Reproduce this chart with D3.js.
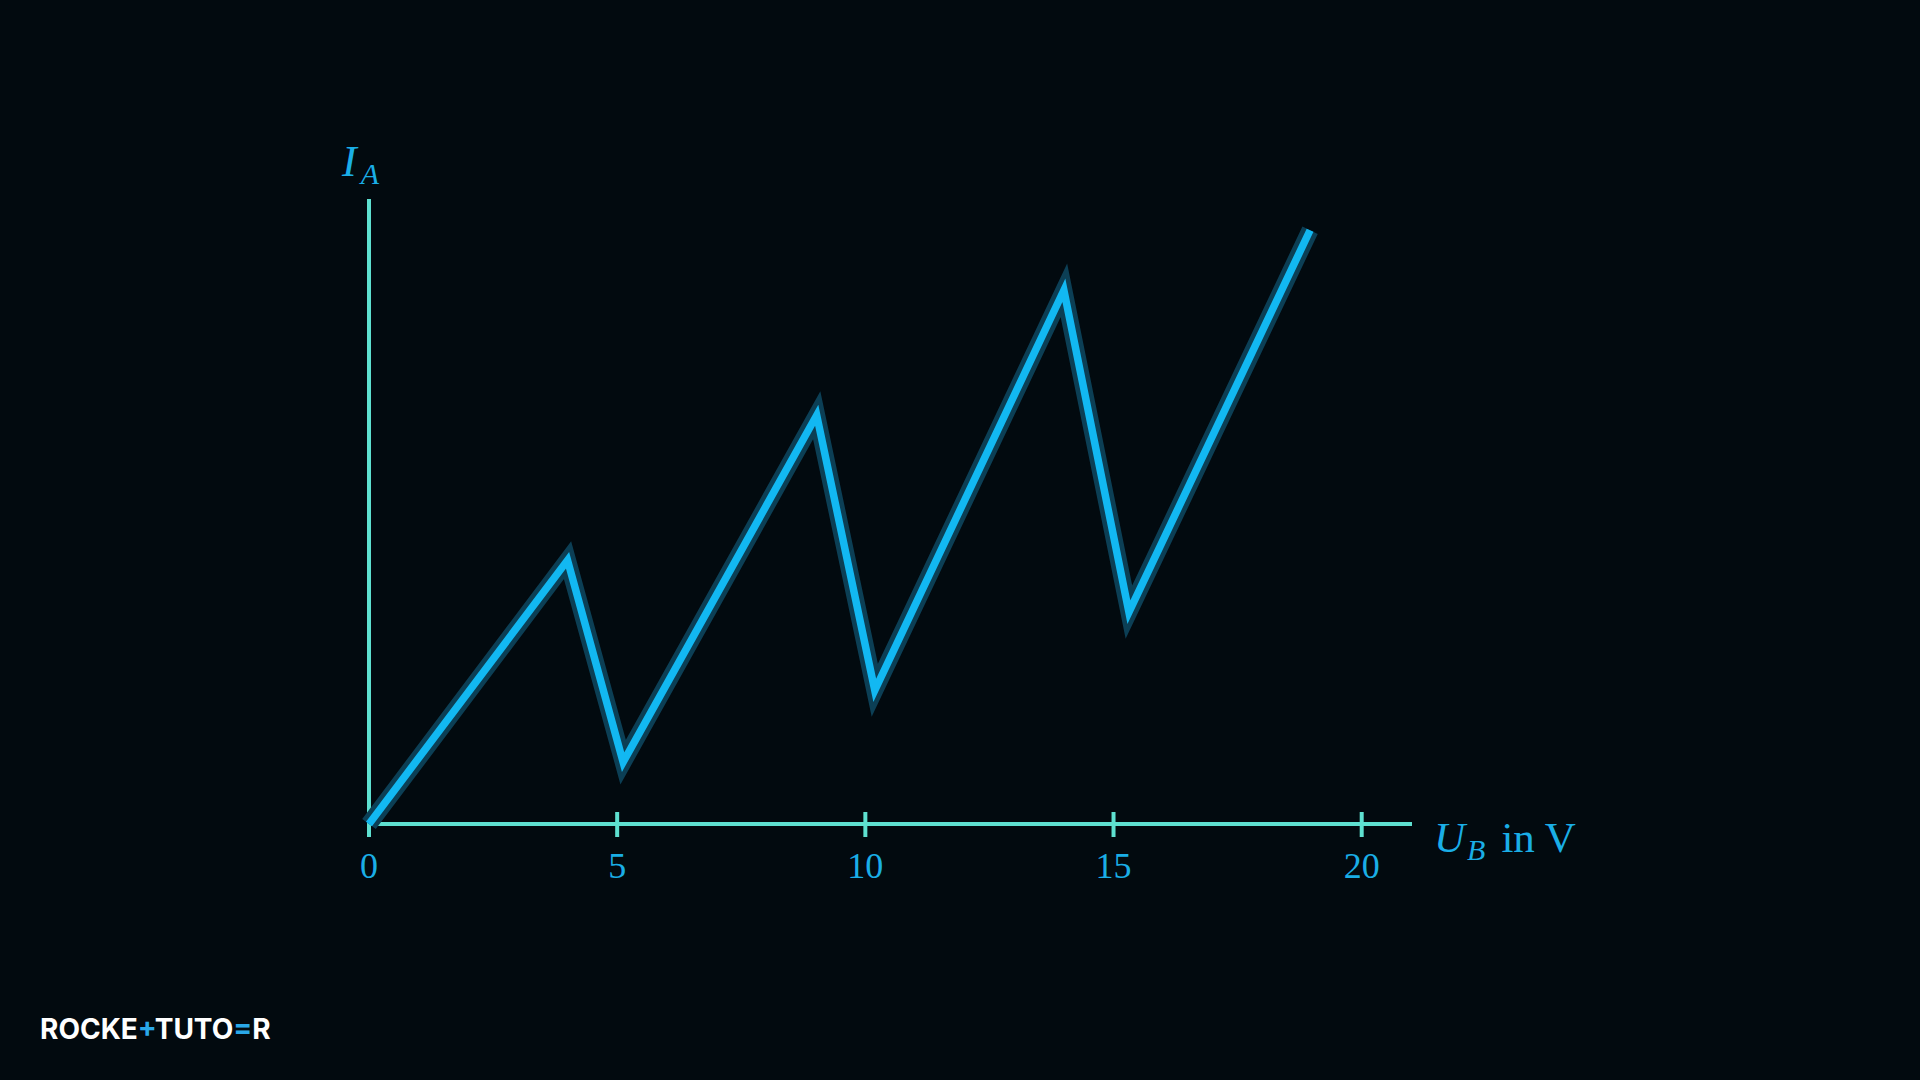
<!DOCTYPE html>
<html><head><meta charset="utf-8">
<script src="https://cdn.jsdelivr.net/npm/d3@7"></script>
<style>
html,body{margin:0;padding:0;background:#020a0f;}
svg{display:block;}
</style></head>
<body>
<svg id="chart" width="1920" height="1080"></svg>
<script>
// Data (U_B in V, I_A in arbitrary units)
const voltages = [0, 4.0, 5.12, 9.02, 10.19, 14.0, 15.31, 18.96];
const currents = [0, 42.2, 9.9, 65.4, 21.4, 85.4, 33.9, 95.0];
const xTicks = [0, 5, 10, 15, 20];
const xTickLabels = ["0", "5", "10", "15", "20"];

const svg = d3.select("#chart");
const bg = "#020a0f";
svg.append("rect").attr("width", 1920).attr("height", 1080).attr("fill", bg);

const x = d3.scaleLinear().domain([0, 20]).range([369, 1361.7]);
const y = d3.scaleLinear().domain([0, 100]).range([824, 199]);

const axisColor = "#5ee0d0";
const textColor = "#1aaee6";

// Axes
svg.append("line").attr("x1", x(0)).attr("x2", 1412).attr("y1", y(0)).attr("y2", y(0))
  .attr("stroke", axisColor).attr("stroke-width", 4);
svg.append("line").attr("x1", x(0)).attr("x2", x(0)).attr("y1", 837).attr("y2", y(100))
  .attr("stroke", axisColor).attr("stroke-width", 4);

// ticks
svg.selectAll(".tick").data(xTicks).enter().append("line")
  .attr("x1", d => x(d)).attr("x2", d => x(d))
  .attr("y1", 812).attr("y2", 837)
  .attr("stroke", axisColor).attr("stroke-width", 4);

svg.selectAll(".tl").data(xTicks).enter().append("text")
  .attr("x", d => x(d)).attr("y", 878)
  .attr("text-anchor", "middle")
  .attr("font-family", "'Liberation Serif', 'DejaVu Serif', serif")
  .attr("font-size", 36).attr("fill", textColor)
  .text((d, i) => xTickLabels[i]);

// Axis labels
const xl = svg.append("text").attr("x", 1434).attr("y", 852)
  .attr("font-family", "'Liberation Serif', 'DejaVu Serif', serif")
  .attr("font-size", 43).attr("fill", textColor);
xl.append("tspan").attr("font-style", "italic").text("U");
xl.append("tspan").attr("font-style", "italic").attr("font-size", 30).attr("dy", 8).attr("dx", 2).text("B");
xl.append("tspan").attr("dy", -8).attr("dx", 16).text("in V");

const yl = svg.append("text").attr("x", 342).attr("y", 176)
  .attr("font-family", "'Liberation Serif', 'DejaVu Serif', serif")
  .attr("font-size", 44).attr("fill", textColor);
yl.append("tspan").attr("font-style", "italic").text("I");
yl.append("tspan").attr("font-style", "italic").attr("font-size", 30).attr("dy", 8).attr("dx", 4).text("A");

// Curve
const pts = voltages.map((v, i) => [v, currents[i]]);
const line = d3.line().x(d => x(d[0])).y(d => y(d[1]));
svg.append("path").attr("d", line(pts)).attr("fill", "none")
  .attr("stroke", "#0c3f55").attr("stroke-width", 17)
  .attr("stroke-linejoin", "miter").attr("stroke-miterlimit", 10).attr("stroke-linecap", "butt");
svg.append("path").attr("d", line(pts)).attr("fill", "none")
  .attr("stroke", "#12b8f2").attr("stroke-width", 7.5)
  .attr("stroke-linejoin", "miter").attr("stroke-miterlimit", 10).attr("stroke-linecap", "butt");

// Logo
const logo = svg.append("text").attr("x", 40).attr("y", 1039)
  .attr("font-family", "Inter, Roboto, sans-serif").attr("font-weight", 700)
  .attr("font-size", 28).attr("fill", "#ffffff").attr("letter-spacing", 0);
logo.append("tspan").text("ROCKE");
logo.append("tspan").attr("fill", "#2aa8e8").text("+");
logo.append("tspan").text("TUTO");
logo.append("tspan").attr("fill", "#2aa8e8").text("=");
logo.append("tspan").text("R");
</script>
</body></html>
